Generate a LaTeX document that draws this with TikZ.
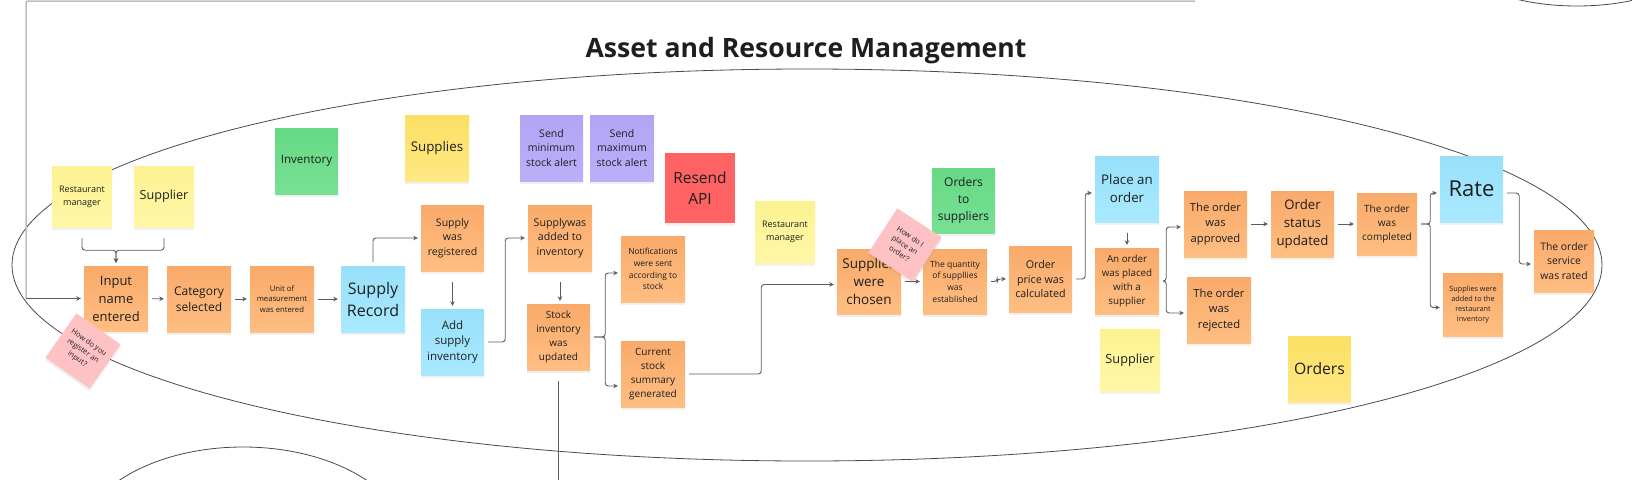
\documentclass[tikz,border=0pt]{standalone}
\usepackage{fontspec}
\setmainfont{Open Sans}
\usepackage{xcolor}
\usepackage{tikz}
\usetikzlibrary{arrows, arrows.meta, shadows}

\definecolor{ink}{HTML}{1E1E1E}
\definecolor{wire}{HTML}{5C5C5C}
\definecolor{lanecol}{HTML}{4A4A4A}
\definecolor{framecol}{HTML}{BEBEBE}
\definecolor{evtA}{HTML}{F9AA6A}
\definecolor{evtB}{HTML}{FFBE82}
\definecolor{cmdA}{HTML}{98E0FA}
\definecolor{cmdB}{HTML}{A8E9FF}
\definecolor{actA}{HTML}{FDF291}
\definecolor{actB}{HTML}{FFF7A8}
\definecolor{aggA}{HTML}{FAE063}
\definecolor{aggB}{HTML}{FFE885}
\definecolor{readA}{HTML}{66D985}
\definecolor{readB}{HTML}{78E094}
\definecolor{polA}{HTML}{B2A4F4}
\definecolor{polB}{HTML}{BBAFF8}
\definecolor{extcol}{HTML}{FF6262}
\definecolor{hotcol}{HTML}{FFC2C4}

\newcommand{\fsz}[2]{\fontsize{#1}{#2}\selectfont}

\begin{document}
\begin{tikzpicture}[x=1pt, y=-1pt]
\tikzstyle{note}=[rectangle, inner sep=0pt, align=center, text=ink, minimum width=63pt, minimum height=66pt, drop shadow={opacity=0.12, shadow xshift=0pt, shadow yshift=-3pt}]
\tikzstyle{event}=[note, top color=evtA, bottom color=evtB]
\tikzstyle{command}=[note, top color=cmdA, bottom color=cmdB]
\tikzstyle{actor}=[note, top color=actA, bottom color=actB, minimum width=60pt, minimum height=61pt]
\tikzstyle{aggregate}=[note, top color=aggA, bottom color=aggB]
\tikzstyle{readmodel}=[note, top color=readA, bottom color=readB]
\tikzstyle{policy}=[note, top color=polA, bottom color=polB]
\tikzstyle{external}=[note, fill=extcol, minimum width=70pt, minimum height=70pt]
\tikzstyle{hotspot}=[note, fill=hotcol, minimum width=53pt, minimum height=53pt, font=\fsz{7.4}{10}]
\tikzstyle{conn}=[draw=wire, line width=0.9pt, rounded corners=3pt, shorten <=4pt, shorten >=3pt, -{Stealth[length=4.5pt, width=4.5pt]}]
\tikzstyle{lane}=[draw=lanecol, line width=0.8pt]

\clip (0,0) rectangle (1632,479);

% swimlane outlines
\draw[lane] (807,265) ellipse [x radius=795, y radius=196];
\draw[lane] (243,547) ellipse [x radius=166, y radius=100];
\draw[lane] (1577,-34) ellipse [x radius=108, y radius=40];

% frame edge coming into the flow
\coordinate (fr) at (26,298.5);
\draw[framecol, line width=1.5pt, rounded corners=2pt] (1195,1) -- (26,1) -- (fr);

\node[font=\bfseries\fsz{26.6}{32}, text=ink] (title) at (806,51) {Asset and Resource Management};

% top row
\node[actor, font=\fsz{9}{13}] (rm1) at (82,196.5) {Restaurant\\manager};
\node[actor, font=\fsz{12.6}{17}] (sup1) at (164,196.5) {Supplier};
\node[readmodel, font=\fsz{11.6}{16}] (inv) at (306.5,161) {Inventory};
\node[aggregate, minimum width=64pt, font=\fsz{13.3}{18}] (supplies) at (437,148) {Supplies};
\node[policy, font=\fsz{10.5}{14.7}] (minalert) at (551.5,148) {Send\\minimum\\stock alert};
\node[policy, minimum width=64pt, font=\fsz{10.5}{14.7}] (maxalert) at (622,148) {Send\\maximum\\stock alert};
\node[external, font=\fsz{15.5}{21.3}] (resend) at (700,188) {Resend\\API};
\node[actor, minimum height=62pt, font=\fsz{9}{13}] (rm2) at (785,232) {Restaurant\\manager};
\node[readmodel, minimum height=65pt, font=\fsz{12}{16.7}] (toorders) at (963.5,200.5) {Orders\\to\\suppliers};

% supply registration
\node[event, minimum width=64pt, minimum height=65pt, font=\fsz{13}{18}] (input) at (116,298.5) {Input\\name\\entered};
\node[event, minimum width=64pt, font=\fsz{12}{16.5}] (category) at (199,299) {Category\\selected};
\node[event, minimum width=64pt, font=\fsz{7.7}{10.7}] (unit) at (282,299) {Unit of\\measurement\\was entered};
\node[command, minimum width=64pt, font=\fsz{16}{22}] (record) at (373,299) {Supply\\Record};
\node[event, font=\fsz{10.5}{14.3}] (registered) at (452.5,238) {Supply\\was\\registered};
\node[command, font=\fsz{11.5}{15.8}] (addinv) at (452.5,342) {Add\\supply\\inventory};
\node[event, minimum width=64pt, font=\fsz{10.6}{14.7}] (added) at (560,238) {Supplywas\\added to\\inventory};
\node[event, font=\fsz{10}{13.8}] (updated) at (558.5,337) {Stock\\inventory\\was\\updated};
\node[event, minimum width=64pt, font=\fsz{8.4}{11.7}] (notif) at (653,269) {Notifications\\were sent\\according to\\stock};
\node[event, minimum width=64pt, font=\fsz{10}{13.8}] (summary) at (653,374) {Current\\stock\\summary\\generated};

% ordering
\node[event, minimum width=64pt, minimum height=65pt, font=\fsz{13.5}{18.2}] (chosen) at (869,281.5) {Supplies\\were\\chosen};
\node[event, minimum width=64pt, minimum height=65pt, font=\fsz{8.5}{11.7}] (quantity) at (955,281.5) {The quantity\\of suppllies\\was\\established};
\node[event, font=\fsz{10.7}{14.5}] (price) at (1040.5,279) {Order\\price was\\calculated};
\node[command, minimum width=64pt, font=\fsz{13.3}{18}] (place) at (1127,189) {Place an\\order};
\node[event, minimum width=64pt, font=\fsz{9.8}{13.8}] (placed) at (1127,281) {An order\\was placed\\with a\\supplier};
\node[actor, minimum height=62pt, font=\fsz{12.7}{17}] (sup2) at (1130,360) {Supplier};
\node[event, font=\fsz{11.2}{15.7}] (approved) at (1215.5,224) {The order\\was\\approved};
\node[event, minimum width=64pt, font=\fsz{11.2}{15.7}] (rejected) at (1219,310) {The order\\was\\rejected};
\node[event, font=\fsz{13.2}{18.3}] (status) at (1302.5,224) {Order\\status\\updated};
\node[event, minimum width=60pt, minimum height=62pt, font=\fsz{10}{13.7}] (completed) at (1387,224) {The order\\was\\completed};
\node[command, font=\fsz{22}{26}] (rate) at (1471.5,189) {Rate};
\node[event, minimum width=60pt, minimum height=63pt, font=\fsz{7.3}{10}] (addedrest) at (1473,304.5) {Supplies were\\added to the\\restaurant\\inventory};
\node[event, minimum width=60pt, minimum height=62pt, font=\fsz{10.4}{14.7}] (rated) at (1564,261) {The order\\service\\was rated};
\node[aggregate, font=\fsz{15.7}{20}] (orders) at (1319.5,369) {Orders};

% questions
\node[hotspot, rotate=-35, minimum width=54pt, minimum height=54pt] (ask1) at (83,351) {How do you\\register an\\input?};
\node[hotspot, rotate=-33] (ask2) at (905,245) {How do I\\place an\\order?};

\coordinate (down) at (558,490);

% connectors
\draw[conn, shorten <=0pt] (fr) -- (input.west);
\draw[conn, shorten <=11pt] (rm1.south) -- ++(0,23) -| (input.north);
\draw[conn, shorten <=11pt] (sup1.south) -- ++(0,23) -| (input.north);
\path[conn]
(input) edge (category)
(category) edge (unit)
(unit) edge (record)
(chosen) edge (quantity)
(approved) edge (status)
(status) edge (completed);
\draw[conn] (record.north) |- (registered.west);
\draw[conn, shorten <=11pt] (registered.south) -- (addinv.north);
\draw[conn] (addinv.east) -- ++(21,0) |- (added.west);
\draw[conn, shorten <=11pt] (added.south) -- (added.south |- updated.north);
\draw[conn] (updated.east) -- ++(15,0) |- ([yshift=-4pt]notif.west);
\draw[conn] (updated.east) -- ++(15,0) |- ([yshift=-12pt]summary.west);
\draw[draw=wire, line width=0.9pt, shorten <=11pt] (updated.south) -- (updated.south |- down);
\draw[conn] (summary.east) -- ++(76,0) |- ([yshift=-3pt]chosen.west);
\draw[conn] (quantity.east) -- ++(10,0) |- (price.west);
\draw[conn] (price.east) -- ++(13,0) |- ([yshift=-4pt]place.west);
\draw[conn, shorten <=11pt] (place.south) -- (placed.north);
\draw[conn] (placed.east) -- ++(7,0) |- ([yshift=-3pt]approved.west);
\draw[conn] (placed.east) -- ++(7,0) |- ([yshift=-3pt]rejected.west);
\draw[conn] (completed.east) -- ++(13,0) |- ([yshift=-4pt]rate.west);
\draw[conn] (completed.east) -- ++(13,0) |- ([yshift=-3pt]addedrest.west);
\draw[conn] ([yshift=-4pt]rate.east) -- ++(16,0) |- ([yshift=-3pt]rated.west);

\end{tikzpicture}
\end{document}
